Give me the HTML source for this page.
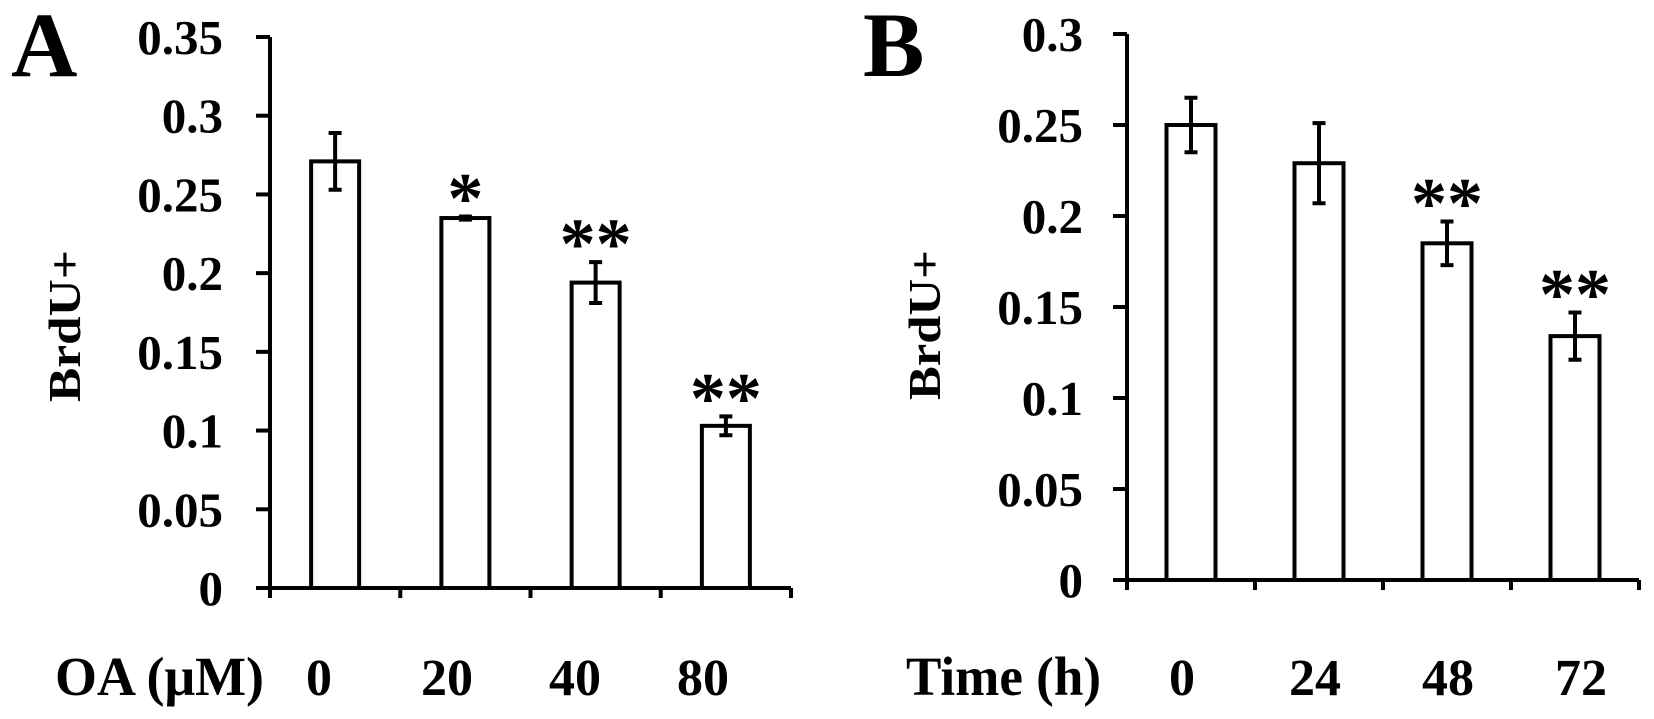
<!DOCTYPE html>
<html><head><meta charset="utf-8"><style>
html,body{margin:0;padding:0;background:#fff;}
svg{display:block;}
text{font-family:"Liberation Serif",serif;font-weight:bold;fill:#000;}
</style></head><body>
<svg id="chart" width="1654" height="719" viewBox="0 0 1654 719" xmlns="http://www.w3.org/2000/svg">
<text x="11" y="76" font-size="92">A</text>
<text x="863" y="76" font-size="92">B</text>
<text transform="translate(80,326) rotate(-90)" text-anchor="middle" font-size="46" textLength="152" lengthAdjust="spacingAndGlyphs">BrdU+</text>
<text transform="translate(940,325) rotate(-90)" text-anchor="middle" font-size="46" textLength="150" lengthAdjust="spacingAndGlyphs">BrdU+</text>
<text x="55" y="695" font-size="55" textLength="209" lengthAdjust="spacingAndGlyphs">OA (μM)</text>
<text x="906" y="695" font-size="55" textLength="195" lengthAdjust="spacingAndGlyphs">Time (h)</text>
<g id="pa"></g>
<g id="pb"></g>
</svg>
<script>
// Panel A data
const catsA = ["0", "20", "40", "80"];
const valsA = [0.271, 0.235, 0.194, 0.103];
const errA = [0.018, 0.001, 0.013, 0.006];
const starsA = ["", "*", "**", "**"];
const ticksA = ["0", "0.05", "0.1", "0.15", "0.2", "0.25", "0.3", "0.35"];
const ymaxA = 0.35;
// Panel B data
const catsB = ["0", "24", "48", "72"];
const valsB = [0.25, 0.229, 0.185, 0.134];
const errB = [0.015, 0.022, 0.012, 0.013];
const starsB = ["", "", "**", "**"];
const ticksB = ["0", "0.05", "0.1", "0.15", "0.2", "0.25", "0.3"];
const ymaxB = 0.3;

const NS = "http://www.w3.org/2000/svg";
function mk(parent, tag, attrs) {
  const e = document.createElementNS(NS, tag);
  for (const k in attrs) e.setAttribute(k, attrs[k]);
  parent.appendChild(e);
  return e;
}
function drawPanel(g, L, cats, vals, errs, stars, ticks, ymax) {
  const y = v => L.y0 - (v / ymax) * (L.y0 - L.y1);
  const band = (L.x1 - L.x0) / cats.length;
  const cx = i => L.x0 + band * (i + 0.5);
  const sw = 4;
  const ya = mk(g, "line", {x1: L.x0, y1: L.y1, x2: L.x0, y2: L.y0 + 10, stroke: "#000", "stroke-width": sw});
  
  
  ticks.forEach(t => {
    const ty = y(parseFloat(t));
    const tk = mk(g, "line", {x1: L.x0 - 14, y1: ty, x2: L.x0, y2: ty, stroke: "#000", "stroke-width": sw});
    
    
    const tl = mk(g, "text", {x: L.labelRight, y: ty + 17, "text-anchor": "end", "font-size": 49});
    tl.textContent = t;
    
    
  });
  const xa = mk(g, "line", {x1: L.x0 - 14, y1: L.y0, x2: L.x1, y2: L.y0, stroke: "#000", "stroke-width": sw});
  
  
  for (let i = 1; i <= cats.length; i++) {
    const bx = L.x0 + band * i;
    const xt = mk(g, "line", {x1: bx, y1: L.y0, x2: bx, y2: L.y0 + 10, stroke: "#000", "stroke-width": sw});
    
    
  }
  cats.forEach((c, i) => {
    const top = y(vals[i]);
    const bar = mk(g, "rect", {x: cx(i) - L.bw / 2, y: top, width: L.bw, height: L.y0 - top, fill: "#fff", stroke: "#000", "stroke-width": sw});
    
    
    const et = y(vals[i] + errs[i]), eb = y(vals[i] - errs[i]);
    const ev = mk(g, "path", {d: `M${cx(i)},${et}V${eb}M${cx(i)-6.5},${et}H${cx(i)+6.5}M${cx(i)-6.5},${eb}H${cx(i)+6.5}`, stroke: "#000", "stroke-width": sw, fill: "none"});
    
    
    if (stars[i]) {
      const st = mk(g, "text", {x: cx(i), y: et + 6, "text-anchor": "middle", "font-size": 72});
      st.textContent = stars[i];
      
      
    }
    const cl = mk(g, "text", {x: L.lab0 + L.labStep * i, y: 695, "text-anchor": "middle", "font-size": 52});
    cl.textContent = c;
    
    
  });
}
drawPanel(document.getElementById("pa"), {x0: 270, x1: 791, y0: 588, y1: 37, bw: 48, labelRight: 223, lab0: 319, labStep: 128}, catsA, valsA, errA, starsA, ticksA, ymaxA);
drawPanel(document.getElementById("pb"), {x0: 1127, x1: 1639, y0: 580, y1: 34, bw: 49, labelRight: 1083, lab0: 1182, labStep: 133}, catsB, valsB, errB, starsB, ticksB, ymaxB);
</script>
</body></html>
